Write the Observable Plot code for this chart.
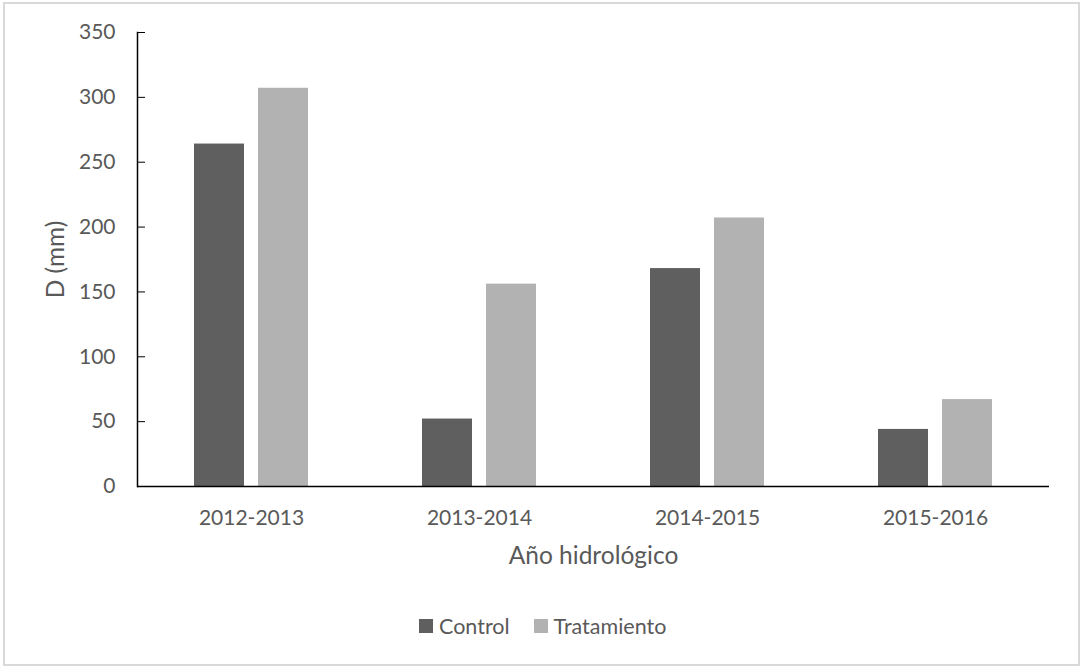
<!DOCTYPE html>
<html>
<head>
<meta charset="utf-8">
<script src="https://cdn.jsdelivr.net/npm/d3@7"></script>
<script src="https://cdn.jsdelivr.net/npm/@observablehq/plot@0.6"></script>
<style>
  body { margin: 0; background: #fff; }
  #chart { position: relative; width: 1080px; height: 666px; overflow: hidden; font-family: Lato, "Open Sans", sans-serif; background: #fff; }
  #frame { position: absolute; left: 3px; top: 2px; width: 1077px; height: 664px; border: 2px solid #d9d9d9; box-sizing: border-box; pointer-events: none; }
  #plot { position: absolute; left: 0; top: 0; }
  #legend { position: absolute; left: 419px; top: 613px; display: flex; align-items: center; font-size: 21.5px; color: #595959; }
  .item { display: flex; align-items: center; margin-right: 24px; }
  .swatch { width: 14px; height: 14px; margin-right: 6px; }
  #plot svg [aria-label="y-axis label"] text,
  #plot svg [aria-label="fx-axis label"] text { font-size: 24.5px; }
</style>
</head>
<body>
<div id="chart">
  <div id="plot"></div>
  <div id="legend"></div>
  <div id="frame"></div>
</div>
<script>
// Drainage D (mm) per hydrological year, control vs. treatment plots
const years = ["2012-2013", "2013-2014", "2014-2015", "2015-2016"];
const series = ["Control", "Tratamiento"];
const control = [264, 52, 168, 44];
const tratamiento = [307, 156, 207, 67];
const yTicks = [0, 50, 100, 150, 200, 250, 300, 350];
const colors = ["#5f5f5f", "#b2b2b2"];

const rows = years.flatMap((year, i) => [
  {year, serie: series[0], value: control[i]},
  {year, serie: series[1], value: tratamiento[i]}
]);

const textColor = "#595959";

const chart = Plot.plot({
  width: 1080,
  height: 580,
  marginTop: 32,
  marginBottom: 94,
  marginLeft: 137,
  marginRight: 31,
  style: {fontFamily: "Lato, 'Open Sans', sans-serif", fontSize: "21px", color: textColor, background: "transparent"},
  fx: {domain: years, padding: 0, label: null},
  x: {domain: series, paddingInner: 0.215, paddingOuter: 0.862, axis: null},
  y: {domain: [0, 350], label: null},
  color: {domain: series, range: colors},
  marks: [
    Plot.barY(rows, {fx: "year", x: "serie", y: "value", fill: "serie"}),
    Plot.ruleY([0], {stroke: "#000", strokeWidth: 1.5}),
    // vertical value axis line, only on the leftmost facet
    Plot.frame({anchor: "left", facetAnchor: "left", stroke: "#000", strokeWidth: 1.5}),
    Plot.axisY({
      ticks: yTicks,
      tickSize: -8,
      tickPadding: 30,
      stroke: "#000",
      fill: textColor,
      label: "D (mm)",
      labelAnchor: "center",
      labelArrow: "none",
      labelOffset: 91
    }),
    Plot.axisFx({
      anchor: "bottom",
      tickSize: 0,
      tickPadding: 24,
      fill: textColor,
      label: "Año hidrológico",
      labelAnchor: "center",
      labelArrow: "none",
      labelOffset: 77
    })
  ]
});
document.getElementById("plot").appendChild(chart);

// Legend below the chart
const legend = document.getElementById("legend");
series.forEach((s, i) => {
  const item = document.createElement("div");
  item.className = "item";
  const sw = document.createElement("span");
  sw.className = "swatch";
  sw.style.background = colors[i];
  const label = document.createElement("span");
  label.textContent = s;
  item.appendChild(sw);
  item.appendChild(label);
  legend.appendChild(item);
});
</script>
</body>
</html>
